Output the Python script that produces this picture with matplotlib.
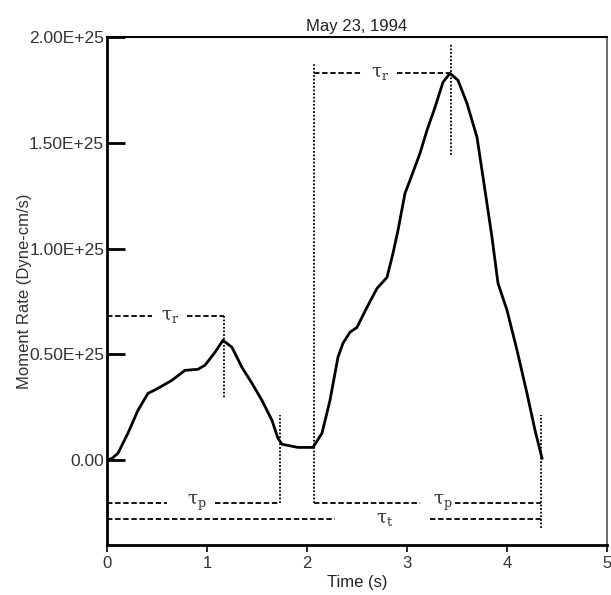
import numpy as np
import matplotlib
matplotlib.use("Agg")
import matplotlib.pyplot as plt

plt.rcParams['font.family'] = ['Liberation Sans', 'DejaVu Sans']
plt.rcParams['mathtext.fontset'] = 'dejavuserif'

# moment rate function (time in s, rate in 1e25 dyne-cm/s)
time_s = [0.00, 0.05, 0.11, 0.21, 0.31, 0.41, 0.51, 0.65, 0.78, 0.91, 0.98, 1.08,
          1.16, 1.25, 1.35, 1.45, 1.55, 1.65, 1.71, 1.75, 1.91, 2.06,
          2.15, 2.23, 2.31, 2.36, 2.43, 2.50, 2.60, 2.70, 2.80, 2.86, 2.91, 2.98,
          3.03, 3.13, 3.20, 3.28, 3.36, 3.43, 3.51, 3.60, 3.70, 3.78, 3.85, 3.91,
          4.00, 4.10, 4.20, 4.28, 4.35]
rate = [0.000, 0.009, 0.033, 0.128, 0.236, 0.316, 0.340, 0.378, 0.425, 0.430, 0.449, 0.510,
        0.567, 0.534, 0.439, 0.364, 0.283, 0.189, 0.104, 0.076, 0.061, 0.061,
        0.128, 0.283, 0.487, 0.553, 0.605, 0.628, 0.723, 0.812, 0.864, 0.978, 1.086, 1.261,
        1.323, 1.450, 1.559, 1.667, 1.786, 1.828, 1.795, 1.686, 1.526, 1.275, 1.053, 0.836,
        0.709, 0.520, 0.316, 0.142, 0.010]

# event timing (s) and annotation levels (1e25)
peak1_t, peak1_level = 1.17, 0.68
end1_t = 1.73
start2_t = 2.07
peak2_t, peak2_level = 3.44, 1.828
end2_t = 4.34
tp_level = -0.203
tt_level = -0.279

yticks = [0.0, 0.5, 1.0, 1.5, 2.0]
yticklabels = ['0.00', '0.50E+25', '1.00E+25', '1.50E+25', '2.00E+25']
xticks = [0, 1, 2, 3, 4, 5]

scale = 1e25
fig = plt.figure(figsize=(6.11, 5.95), dpi=100)
ax = fig.add_axes([0.175, 0.084, 0.8185, 0.854])

ax.plot(time_s, np.array(rate) * scale, color='black', lw=2.0, solid_joinstyle='round')

dash = dict(color='black', lw=1.3, linestyle=(0, (3, 1.5)))
dot = dict(color='black', lw=1.3, linestyle=(0, (1, 1)))
lab = dict(fontsize=13, ha='center', va='center', color='#333333')

# first subevent: rise time
ax.plot([0, 0.45], [peak1_level * scale] * 2, **dash)
ax.plot([0.80, peak1_t], [peak1_level * scale] * 2, **dash)
ax.text(0.63, peak1_level * scale, r'$\mathrm{\tau_r}$', **lab)
ax.plot([peak1_t, peak1_t], [peak1_level * scale, 0.29 * scale], **dot)

# first subevent: pulse width
ax.plot([0, 0.60], [tp_level * scale] * 2, **dash)
ax.plot([1.08, end1_t], [tp_level * scale] * 2, **dash)
ax.text(0.90, tp_level * scale, r'$\mathrm{\tau_p}$', **lab)
ax.plot([end1_t, end1_t], [tp_level * scale, 0.213 * scale], **dot)

# total duration
ax.plot([0, 2.28], [tt_level * scale] * 2, **dash)
ax.plot([3.23, end2_t], [tt_level * scale] * 2, **dash)
ax.text(2.78, tt_level * scale, r'$\mathrm{\tau_t}$', **lab)
ax.plot([end2_t, end2_t], [-0.32 * scale, 0.213 * scale], **dot)

# second subevent
ax.plot([start2_t, start2_t], [tp_level * scale, 1.875 * scale], **dot)
ax.plot([start2_t, 3.13], [tp_level * scale] * 2, **dash)
ax.plot([3.48, end2_t], [tp_level * scale] * 2, **dash)
ax.text(3.36, tp_level * scale, r'$\mathrm{\tau_p}$', **lab)
ax.plot([start2_t, 2.55], [peak2_level * scale] * 2, **dash)
ax.plot([2.90, peak2_t], [peak2_level * scale] * 2, **dash)
ax.text(2.73, peak2_level * scale, r'$\mathrm{\tau_r}$', **lab)
ax.plot([peak2_t, peak2_t], [1.44 * scale, 1.97 * scale], **dot)

ax.set_xlim(0, 5)
ax.set_ylim(-0.4 * scale, 2.0 * scale)
ax.set_xticks(xticks)
ax.set_yticks([v * scale for v in yticks])
ax.set_yticklabels(yticklabels)
ax.tick_params(axis='y', direction='in', length=13, width=2, pad=2, labelsize=12.5, labelcolor='#333333')
ax.tick_params(axis='x', direction='out', length=5, width=1.2, pad=3, labelsize=12, labelcolor='#333333')

for s in ['left', 'bottom']:
    ax.spines[s].set_linewidth(2)
ax.spines['top'].set_linewidth(1.5)
ax.spines['right'].set_linewidth(1.2)
ax.spines['right'].set_color('#555555')

ax.set_title('May 23, 1994', fontsize=12, pad=4, color='#222222')
ax.set_xlabel('Time (s)', fontsize=12, labelpad=3, color='#222222')
ax.set_ylabel('Moment Rate (Dyne-cm/s)', fontsize=12, labelpad=-2, color='#333333')

fig.savefig('out.png', dpi=100)
